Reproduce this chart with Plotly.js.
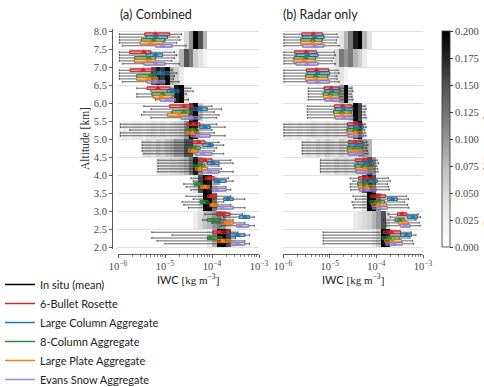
<!DOCTYPE html>
<html><head><meta charset="utf-8">
<script src="https://cdn.plot.ly/plotly-3.0.1.min.js"></script>
<style>html,body{margin:0;padding:0;background:#fff}#chart{width:484px;height:387px}</style>
</head><body><div id="chart"></div>
<script>
// ---------- categories ----------
const altitudeEdges = [2.0,2.5,3.0,3.5,4.0,4.5,5.0,5.5,6.0,6.5,7.0,7.5,8.0];
const altitudeCentres = [2.25,2.75,3.25,3.75,4.25,4.75,5.25,5.75,6.25,6.75,7.25,7.75];
const seriesNames = ['6-Bullet Rosette','Large Column Aggregate','8-Column Aggregate','Large Plate Aggregate','Evans Snow Aggregate'];
const xTickLabels = ['10<sup>\u22126</sup>','10<sup>\u22125</sup>','10<sup>\u22124</sup>','10<sup>\u22123</sup>'];
const colorbarTicks = [0,0.025,0.05,0.075,0.1,0.125,0.15,0.175,0.2];

// ---------- (a) Combined: log10 IWC [kg m^-3], bins 2.25 ... 7.75 km ----------
const combRosetteLo  = [-5.28,-4.15,-4.55,-4.45,-5.15,-5.49,-5.95,-5.45,-5.6,-5.97,-5.97,-5.97];
const combRosetteQ1  = [-3.98,-3.9,-4.1,-4.15,-4.28,-4.4,-4.53,-4.9,-5.38,-5.74,-5.75,-5.43];
const combRosetteMed = [-3.85,-3.79,-4.02,-4.05,-4.15,-4.28,-4.4,-4.6,-5.15,-5.47,-5.45,-5.2];
const combRosetteQ3  = [-3.62,-3.62,-3.9,-3.95,-4.0,-4.15,-4.26,-4.4,-4.9,-5.2,-5.3,-4.9];
const combRosetteHi  = [-3.45,-3.35,-3.6,-3.65,-3.6,-3.85,-3.9,-4.0,-4.45,-4.85,-4.8,-4.65];

const combColumnLo  = [-4.85,-3.75,-4.4,-4.4,-5.15,-5.49,-5.95,-5.3,-5.3,-5.97,-5.97,-5.97];
const combColumnQ1  = [-3.62,-3.42,-3.75,-3.95,-4.1,-4.2,-4.26,-4.4,-4.95,-5.25,-5.4,-5.4];
const combColumnMed = [-3.45,-3.3,-3.66,-3.87,-3.98,-4.05,-4.15,-4.26,-4.85,-5.1,-5.2,-5.2];
const combColumnQ3  = [-3.3,-3.2,-3.55,-3.7,-3.85,-3.98,-4.04,-4.1,-4.7,-4.9,-5.05,-4.95];
const combColumnHi  = [-3.2,-3.1,-3.3,-3.55,-3.55,-3.75,-3.72,-3.8,-4.4,-4.75,-4.75,-4.7];

const comb8ColLo  = [-5.28,-4.2,-4.64,-4.6,-5.15,-5.49,-5.75,-5.45,-5.6,-5.97,-5.97,-5.97];
const comb8ColQ1  = [-4.1,-4.1,-4.25,-4.38,-4.4,-4.5,-4.55,-4.85,-5.28,-5.6,-5.65,-5.5];
const comb8ColMed = [-4.04,-3.98,-4.19,-4.3,-4.25,-4.38,-4.42,-4.6,-5.05,-5.32,-5.35,-5.25];
const comb8ColQ3  = [-3.8,-3.83,-4.08,-4.2,-4.15,-4.25,-4.3,-4.45,-4.8,-5.18,-5.2,-5.0];
const comb8ColHi  = [-3.5,-3.55,-3.75,-3.85,-3.85,-3.9,-4.0,-3.95,-4.55,-4.8,-4.8,-4.68];

const combPlateLo  = [-5.17,-4.0,-4.6,-4.55,-5.15,-5.49,-5.95,-5.5,-5.6,-5.97,-5.97,-5.97];
const combPlateQ1  = [-3.9,-3.75,-4.05,-4.25,-4.35,-4.5,-4.55,-4.95,-5.25,-5.6,-5.65,-5.53];
const combPlateMed = [-3.77,-3.66,-3.98,-4.15,-4.25,-4.4,-4.42,-4.7,-5.08,-5.35,-5.35,-5.3];
const combPlateQ3  = [-3.6,-3.55,-3.88,-4.05,-4.1,-4.3,-4.28,-4.5,-4.85,-5.15,-5.2,-5.05];
const combPlateHi  = [-3.3,-3.3,-3.6,-3.7,-3.8,-3.95,-3.95,-3.85,-4.6,-4.82,-4.85,-4.75];

const combEvansLo  = [-5.0,-3.8,-4.5,-4.45,-5.15,-5.45,-5.95,-5.3,-5.2,-5.9,-5.9,-5.9];
const combEvansQ1  = [-3.6,-3.48,-3.88,-4.0,-4.2,-4.35,-4.45,-4.65,-5.1,-5.38,-5.45,-5.2];
const combEvansMed = [-3.45,-3.4,-3.78,-3.9,-4.05,-4.2,-4.3,-4.45,-4.95,-5.2,-5.2,-5.05];
const combEvansQ3  = [-3.3,-3.22,-3.55,-3.7,-3.85,-4.0,-4.04,-4.25,-4.78,-5.0,-5.0,-4.85];
const combEvansHi  = [-3.2,-3.1,-3.3,-3.6,-3.55,-3.75,-3.72,-3.9,-4.5,-4.7,-4.7,-4.55];

// ---------- (b) Radar only ----------
const radRosetteLo  = [-5.14,-3.75,-4.5,-4.56,-5.2,-5.59,-5.98,-5.48,-5.46,-5.98,-5.98,-5.98];
const radRosetteQ1  = [-3.85,-3.55,-4.12,-4.38,-4.45,-4.6,-4.62,-4.9,-5.12,-5.5,-5.75,-5.6];
const radRosetteMed = [-3.68,-3.45,-3.98,-4.2,-4.26,-4.45,-4.45,-4.72,-4.97,-5.28,-5.5,-5.35];
const radRosetteQ3  = [-3.48,-3.35,-3.8,-4.02,-4.1,-4.3,-4.3,-4.52,-4.8,-5.02,-5.28,-5.15];
const radRosetteHi  = [-3.25,-3.1,-3.35,-3.74,-3.98,-4.2,-4.24,-4.24,-4.52,-4.82,-4.9,-4.84];

const radColumnLo  = [-5.14,-3.7,-4.45,-4.5,-5.2,-5.59,-5.98,-5.48,-5.46,-5.98,-5.98,-5.98];
const radColumnQ1  = [-3.48,-3.33,-3.76,-4.3,-4.4,-4.58,-4.6,-4.88,-5.1,-5.48,-5.72,-5.58];
const radColumnMed = [-3.35,-3.22,-3.66,-4.12,-4.22,-4.42,-4.42,-4.7,-4.95,-5.26,-5.48,-5.32];
const radColumnQ3  = [-3.25,-3.12,-3.55,-3.98,-4.06,-4.28,-4.28,-4.5,-4.78,-5.0,-5.25,-5.12];
const radColumnHi  = [-3.15,-3.05,-3.31,-3.7,-3.95,-4.18,-4.22,-4.22,-4.5,-4.8,-4.88,-4.82];

const rad8ColLo  = [-5.14,-3.85,-4.52,-4.56,-5.2,-5.59,-5.98,-5.48,-5.46,-5.98,-5.98,-5.98];
const rad8ColQ1  = [-3.88,-3.6,-4.14,-4.4,-4.46,-4.62,-4.63,-4.92,-5.14,-5.52,-5.76,-5.62];
const rad8ColMed = [-3.72,-3.5,-4.0,-4.22,-4.28,-4.46,-4.46,-4.74,-4.99,-5.3,-5.52,-5.36];
const rad8ColQ3  = [-3.5,-3.4,-3.82,-4.04,-4.1,-4.31,-4.31,-4.54,-4.81,-5.04,-5.3,-5.16];
const rad8ColHi  = [-3.28,-3.15,-3.4,-3.76,-3.99,-4.2,-4.25,-4.25,-4.54,-4.84,-4.92,-4.85];

const radPlateLo  = [-5.14,-3.8,-4.5,-4.56,-5.2,-5.59,-5.98,-5.48,-5.46,-5.98,-5.98,-5.98];
const radPlateQ1  = [-3.82,-3.52,-4.1,-4.38,-4.44,-4.61,-4.62,-4.9,-5.13,-5.52,-5.78,-5.62];
const radPlateMed = [-3.66,-3.42,-3.96,-4.2,-4.25,-4.45,-4.45,-4.73,-4.98,-5.3,-5.55,-5.37];
const radPlateQ3  = [-3.46,-3.32,-3.78,-4.02,-4.08,-4.3,-4.3,-4.53,-4.8,-5.04,-5.32,-5.17];
const radPlateHi  = [-3.22,-3.08,-3.33,-3.74,-3.97,-4.19,-4.24,-4.24,-4.52,-4.84,-4.95,-4.86];

const radEvansLo  = [-5.14,-3.78,-4.48,-4.55,-5.2,-5.59,-5.98,-5.48,-5.46,-5.98,-5.98,-5.98];
const radEvansQ1  = [-3.8,-3.48,-4.08,-4.36,-4.43,-4.6,-4.6,-4.88,-5.1,-5.48,-5.72,-5.58];
const radEvansMed = [-3.62,-3.38,-3.94,-4.18,-4.24,-4.44,-4.44,-4.7,-4.96,-5.26,-5.48,-5.32];
const radEvansQ3  = [-3.44,-3.28,-3.76,-4.0,-4.06,-4.28,-4.28,-4.5,-4.78,-5.0,-5.25,-5.12];
const radEvansHi  = [-3.2,-3.06,-3.3,-3.72,-3.96,-4.18,-4.22,-4.22,-4.5,-4.8,-4.88,-4.8];

// ---------- in-situ frequency (rows: altitude bins 2.25..7.75, cols: log10 IWC bins of 0.1 from -6 to -3) ----------
const combInSituFreq = [
 [0,0,0,0,0,0,0,0,0,0, 0,0,0,0,0,0,0,0,0,.03, .08,.2,.2,.15,.04,0,0,0,0,0],
 [0,0,0,0,0,0,0,0,0,0, 0,0,0,0,0,0,.03,.05,.07,.08, .1,.12,.1,.05,.02,0,0,0,0,0],
 [0,0,0,0,0,0,0,0,0,0, 0,0,0,0,0,0,0,.04,.2,.2, .12,0,0,0,0,0,0,0,0,0],
 [0,0,0,0,0,0,0,0,0,0, 0,0,0,0,0,0,.04,.15,.2,.18, .05,0,0,0,0,0,0,0,0,0],
 [0,0,0,0,0,0,0,0,.03,.04, .04,.05,.05,.06,.08,.12,.18,.1,0,0, 0,0,0,0,0,0,0,0,0,0],
 [0,0,0,0,0,.04,.05,.04,.06,.05, .07,.08,.1,.1,.15,.15,.05,0,0,0, 0,0,0,0,0,0,0,0,0,0],
 [.02,.03,.02,.03,.03,.02,.03,.04,.03,.04, .03,.04,.05,.06,.1,.2,.18,.03,0,0, 0,0,0,0,0,0,0,0,0,0],
 [0,0,0,0,0,0,0,0,0,0, 0,0,0,.03,.05,.15,.2,.06,0,0, 0,0,0,0,0,0,0,0,0,0],
 [0,0,0,0,0,0,0,0,0,0, 0,.05,.18,.2,.04,0,0,0,0,0, 0,0,0,0,0,0,0,0,0,0],
 [0,0,0,0,0,0,0,.15,.18,.16, .2,.08,.06,.03,0,0,0,0,0,0, 0,0,0,0,0,0,0,0,0,0],
 [0,0,0,0,0,0,0,0,0,0, 0,0,.03,.08,.15,.12,.06,.04,.02,0, 0,0,0,0,0,0,0,0,0,0],
 [0,0,0,0,0,0,0,0,0,0, 0,0,0,0,.05,.1,.2,.15,.08,0, 0,0,0,0,0,0,0,0,0,0]
];
const radInSituFreq = [
 [0,0,0,0,0,0,0,0,0,0, 0,0,0,0,0,0,0,0,0,.03, .06,.2,.18,.04,0,0,0,0,0,0],
 [0,0,0,0,0,0,0,0,0,0, 0,0,0,0,0,.03,.04,.05,.06,.08, .1,.15,.05,0,0,0,0,0,0,0],
 [0,0,0,0,0,0,0,0,0,0, 0,0,0,0,0,0,0,.04,.2,.2, .1,0,0,0,0,0,0,0,0,0],
 [0,0,0,0,0,0,0,0,0,0, 0,0,0,0,0,0,.04,.15,.2,.15, 0,0,0,0,0,0,0,0,0,0],
 [0,0,0,0,0,0,0,0,.03,.04, .03,.05,.04,.05,.04,.05,.05,.08,.15,.1, 0,0,0,0,0,0,0,0,0,0],
 [0,0,0,0,.03,.04,.03,.05,.04,.06, .05,.04,.06,.05,.06,.05,.1,.1,.08,0, 0,0,0,0,0,0,0,0,0,0],
 [.02,.03,.02,.03,.02,.03,.04,.03,.03,.04, .03,.04,.03,.04,.04,.15,.2,.03,0,0, 0,0,0,0,0,0,0,0,0,0],
 [0,0,0,0,0,0,0,0,0,0, 0,0,0,0,.05,.2,.15,.03,0,0, 0,0,0,0,0,0,0,0,0,0],
 [0,0,0,0,0,0,0,0,0,0, 0,.04,.1,.2,.05,0,0,0,0,0, 0,0,0,0,0,0,0,0,0,0],
 [0,0,0,0,0,0,0,0,0,0, 0,.03,.04,.02,0,0,0,0,0,0, 0,0,0,0,0,0,0,0,0,0],
 [0,0,0,0,0,0,0,0,0,0, 0,.05,.12,.1,.12,.08,.06,.03,0,0, 0,0,0,0,0,0,0,0,0,0],
 [0,0,0,0,0,0,0,0,0,0, 0,0,.04,.08,.12,.18,.2,.08,.04,0, 0,0,0,0,0,0,0,0,0,0]
];

// ---------- styling ----------
const seriesColors = ['#d62728','#1f77b4','#2a8a3a','#ff7f0e','#9a88d6'];
const seriesFills  = ['rgba(214,39,40,0.5)','rgba(31,119,180,0.5)','rgba(42,138,58,0.5)','rgba(255,127,14,0.5)','rgba(154,136,214,0.55)'];
const rowOffsets = [0.16,0.08,0,-0.08,-0.16];
const SERIF = 'Liberation Serif, DejaVu Serif, serif';
const SANS = 'Lato, Open Sans, sans-serif';

const pw = v => Math.pow(10, v);
const binExp = []; for (let i = 0; i <= 30; i++) binExp.push(-6 + 0.1 * i);
const iwcEdges = binExp.map(pw);
const minorVals = []; [-6,-5,-4].forEach(e => { for (let m = 2; m <= 9; m++) minorVals.push(m * Math.pow(10, e)); });

const combined = [
  [combRosetteLo,combRosetteQ1,combRosetteMed,combRosetteQ3,combRosetteHi],
  [combColumnLo,combColumnQ1,combColumnMed,combColumnQ3,combColumnHi],
  [comb8ColLo,comb8ColQ1,comb8ColMed,comb8ColQ3,comb8ColHi],
  [combPlateLo,combPlateQ1,combPlateMed,combPlateQ3,combPlateHi],
  [combEvansLo,combEvansQ1,combEvansMed,combEvansQ3,combEvansHi]
];
const radar = [
  [radRosetteLo,radRosetteQ1,radRosetteMed,radRosetteQ3,radRosetteHi],
  [radColumnLo,radColumnQ1,radColumnMed,radColumnQ3,radColumnHi],
  [rad8ColLo,rad8ColQ1,rad8ColMed,rad8ColQ3,rad8ColHi],
  [radPlateLo,radPlateQ1,radPlateMed,radPlateQ3,radPlateHi],
  [radEvansLo,radEvansQ1,radEvansMed,radEvansQ3,radEvansHi]
];

const traces = [];
function panel(freq, stats, xa, ya) {
  traces.push({type:'heatmap', x: iwcEdges, y: altitudeEdges,
    z: freq.map(r => r.map(v => v > 0 ? v : null)),
    coloraxis:'coloraxis', xaxis: xa, yaxis: ya, hoverinfo:'skip'});
  stats.forEach((s, k) => {
    const pos = altitudeCentres.map(c => c + rowOffsets[k]);
    const [lo,q1,med,q3,hi] = s.map(a => a.map(pw));
    traces.push({type:'box', orientation:'h', y: pos, q1: q1, median: med, q3: q3,
      lowerfence: lo, upperfence: hi, width: 0.075, whiskerwidth: 0.8,
      line:{color:'#222', width:0.7}, fillcolor:'rgba(0,0,0,0)', boxpoints:false,
      showlegend:false, hoverinfo:'skip', xaxis: xa, yaxis: ya});
    traces.push({type:'box', orientation:'h', y: pos, q1: q1, median: med, q3: q3,
      lowerfence: q1, upperfence: q3, width: 0.075, whiskerwidth: 0,
      line:{color: seriesColors[k], width:0.8}, fillcolor: seriesFills[k], boxpoints:false,
      showlegend:false, hoverinfo:'skip', xaxis: xa, yaxis: ya});
    traces.push({type:'scatter', mode:'markers', x: med, y: pos,
      marker:{symbol:'triangle-up', size:6, color: seriesColors[k]},
      showlegend:false, hoverinfo:'skip', xaxis: xa, yaxis: ya});
  });
}
panel(combInSituFreq, combined, 'x', 'y');
panel(radInSituFreq, radar, 'x2', 'y2');

// legend entries
['In situ (mean)'].concat(seriesNames).forEach((n, k) => {
  traces.push({type:'scatter', mode:'lines', x:[null], y:[null], name:n,
    line:{color: k === 0 ? '#000' : seriesColors[k-1], width:1.5}, xaxis:'x', yaxis:'y'});
});

const H = 387, W = 484;
const py = p => 1 - p / H, px = p => p / W;
const xBase = {type:'log', range:[-6,-3], anchor:'free', position: py(254),
  showline:true, linecolor:'#333', linewidth:0.8, ticks:'outside', ticklen:3, tickcolor:'#333', tickwidth:0.8,
  tickvals:[1e-6,1e-5,1e-4,1e-3], ticktext:xTickLabels, tickfont:{family:SERIF, size:10.5, color:'#444'},
  showgrid:false, zeroline:false,
  minor:{tickvals:minorVals, ticks:'outside', ticklen:2, tickcolor:'#333', tickwidth:0.6, showgrid:false}};
const yDomain = [py(248.8), py(29.2)];

const layout = {
  width:W, height:H, margin:{l:0,r:0,t:0,b:0, autoexpand:false}, paper_bgcolor:'#fff', plot_bgcolor:'rgba(0,0,0,0)',
  boxmode:'overlay', showlegend:true,
  legend:{x:0.0, xanchor:'left', y:py(270), yanchor:'top',
    font:{family:SANS, size:11, color:'#222'}, bgcolor:'rgba(0,0,0,0)', tracegroupgap:0, itemwidth:30},
  xaxis: Object.assign({}, xBase, {domain:[px(118), px(259)]}),
  xaxis2: Object.assign({}, xBase, {domain:[px(283), px(423)]}),
  yaxis: {range:[1.95,8.05], domain:yDomain, anchor:'free', position:px(112),
    showline:true, linecolor:'#333', linewidth:0.8, ticks:'outside', ticklen:3, tickcolor:'#333', tickwidth:0.8,
    tickvals:altitudeEdges, tickformat:'.1f', tickfont:{family:SERIF, size:10.5, color:'#444'},
    showgrid:true, gridcolor:'#d8d8d8', gridwidth:0.8, zeroline:false},
  yaxis2: {range:[1.95,8.05], domain:yDomain, anchor:'x2', matches:'y', showline:false, ticks:'',
    tickvals:altitudeEdges, showticklabels:false, showgrid:true, gridcolor:'#d8d8d8', gridwidth:0.8, zeroline:false},
  coloraxis:{cmin:0, cmax:0.2, colorscale:[[0,'#ffffff'],[0.125,'#f0f0f0'],[0.25,'#d9d9d9'],[0.375,'#bdbdbd'],[0.5,'#969696'],[0.625,'#737373'],[0.75,'#525252'],[0.875,'#252525'],[1,'#000000']],
    colorbar:{x:px(442), xanchor:'left', y:py(247), yanchor:'bottom', len:(247-31)/H, lenmode:'fraction',
      thickness:8, thicknessmode:'pixels', outlinewidth:0.8, outlinecolor:'#333', xpad:0, ypad:0,
      ticks:'outside', ticklen:3, tickcolor:'#333', tickvals:colorbarTicks, tickformat:'.3f',
      tickfont:{family:SERIF, size:10.5, color:'#444'},
      title:{text:'Frequency of Number of measurements', side:'right', font:{family:SERIF, size:11, color:'#333'}}}},
  annotations:[
    {text:'(a) Combined', x:px(118), y:py(15), xref:'paper', yref:'paper', xanchor:'left', yanchor:'middle', showarrow:false, font:{family:SANS, size:12.5, color:'#222'}},
    {text:'(b) Radar only', x:px(281), y:py(15), xref:'paper', yref:'paper', xanchor:'left', yanchor:'middle', showarrow:false, font:{family:SANS, size:12.5, color:'#222'}},
    {text:'Altitude [km]', x:px(85), y:py(139), xref:'paper', yref:'paper', xanchor:'center', yanchor:'middle', textangle:-90, showarrow:false, font:{family:SERIF, size:11.5, color:'#333'}},
    {text:"IWC <span style='font-family:Liberation Serif'>[kg m<sup>\u22123</sup>]</span>", x:px(188), y:py(279), xref:'paper', yref:'paper', xanchor:'center', yanchor:'middle', showarrow:false, font:{family:SANS, size:11, color:'#222'}},
    {text:"IWC <span style='font-family:Liberation Serif'>[kg m<sup>\u22123</sup>]</span>", x:px(353), y:py(279), xref:'paper', yref:'paper', xanchor:'center', yanchor:'middle', showarrow:false, font:{family:SANS, size:11, color:'#222'}}
  ]
};
Plotly.newPlot('chart', traces, layout, {staticPlot:true, displayModeBar:false});
</script></body></html>
